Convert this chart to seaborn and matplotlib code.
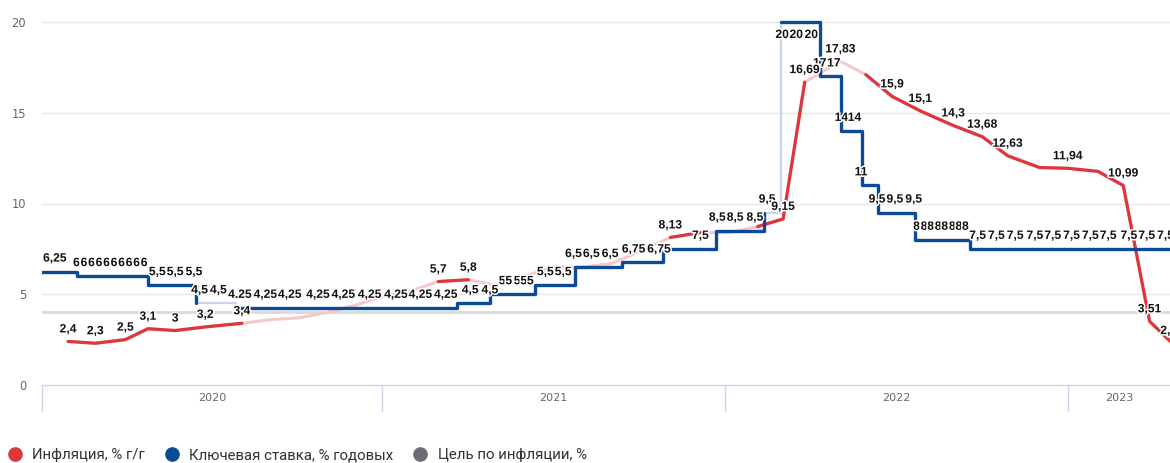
import matplotlib
matplotlib.use("Agg")
import matplotlib.pyplot as plt
import matplotlib.patheffects as pe
from matplotlib.lines import Line2D
import seaborn as sns
import pandas as pd

# ---------------- data ----------------
infl_dates = ['2020-02-02', '2020-03-02', '2020-04-03', '2020-04-27', '2020-05-26', '2020-06-27',
              '2020-08-05', '2020-09-04', '2020-10-05', '2020-11-04', '2020-12-04', '2021-01-03',
              '2021-02-02', '2021-03-02', '2021-04-03', '2021-05-02', '2021-06-02', '2021-07-03',
              '2021-08-03', '2021-09-03', '2021-10-04', '2021-11-04', '2021-12-06', '2022-01-05',
              '2022-02-05', '2022-03-04', '2022-03-27', '2022-05-04', '2022-05-31', '2022-06-28',
              '2022-07-28', '2022-09-01', '2022-10-02', '2022-10-29', '2022-12-02', '2023-01-01',
              '2023-02-02', '2023-03-01', '2023-03-29', '2023-04-22']
infl_values = [2.4, 2.3, 2.5, 3.1, 3.0, 3.2, 3.4, 3.6, 3.7, 4.0, 4.4, 4.9,
               5.2, 5.7, 5.8, 5.5, 6.0, 6.5, 6.5, 6.7, 7.4, 8.13, 8.4, 8.39,
               8.73, 9.15, 16.69, 17.83, 17.1, 15.9, 15.1, 14.3, 13.68, 12.63, 11.98, 11.94,
               11.77, 10.99, 3.51, 2.31]
infl_labeled = [0, 1, 2, 3, 4, 5, 6, 13, 14, 21, 25, 26, 27, 29, 30, 31, 32, 33, 35, 37, 38, 39]
infl_solid_spans = [(0, 6), (13, 14), (21, 22), (24, 26), (28, 39)]

rate_dates = ['2020-01-01', '2020-02-11', '2020-04-27', '2020-06-17', '2020-07-30', '2021-03-22',
              '2021-04-26', '2021-06-13', '2021-07-25', '2021-09-14', '2021-10-27', '2021-12-23',
              '2022-02-12', '2022-03-02', '2022-04-12', '2022-05-05', '2022-05-27', '2022-06-13',
              '2022-07-22', '2022-09-19', '2023-05-31']
rate_values = [6.25, 6, 5.5, 4.5, 4.25, 4.5, 5, 5.5, 6.5, 6.75, 7.5, 8.5,
               9.5, 20, 17, 14, 11, 9.5, 8, 7.5, 7.5]
rate_faded_spans = [(3, 4), (12, 13)]

rate_label_dates = ['2020-01-19',
                    '2020-02-11', '2020-02-19', '2020-02-27', '2020-03-06', '2020-03-14',
                    '2020-03-22', '2020-03-30', '2020-04-07', '2020-04-15', '2020-04-23',
                    '2020-05-07', '2020-05-26', '2020-06-15',
                    '2020-06-21', '2020-07-11',
                    '2020-08-03', '2020-08-30', '2020-09-25', '2020-10-25', '2020-11-21',
                    '2020-12-19', '2021-01-16', '2021-02-11', '2021-03-10',
                    '2021-04-05', '2021-04-26',
                    '2021-05-09', '2021-05-16', '2021-05-25', '2021-06-01', '2021-06-08',
                    '2021-06-24', '2021-07-13',
                    '2021-07-24', '2021-08-12', '2021-09-01',
                    '2021-09-26', '2021-10-23',
                    '2021-12-06',
                    '2021-12-24', '2022-01-12', '2022-02-02',
                    '2022-02-15',
                    '2022-03-03', '2022-03-18', '2022-04-03',
                    '2022-04-12', '2022-04-27',
                    '2022-05-05', '2022-05-19',
                    '2022-05-26',
                    '2022-06-12', '2022-07-01', '2022-07-21',
                    '2022-07-24', '2022-08-01', '2022-08-08', '2022-08-16', '2022-08-23',
                    '2022-08-31', '2022-09-07', '2022-09-14',
                    '2022-09-27', '2022-10-17', '2022-11-06', '2022-11-27', '2022-12-16',
                    '2023-01-05', '2023-01-25', '2023-02-13', '2023-03-07', '2023-03-26', '2023-04-15']
rate_label_values = [6.25] + [6] * 10 + [5.5] * 3 + [4.5] * 2 + [4.25] * 9 + [4.5] * 2 + [5] * 5 + \
                    [5.5] * 2 + [6.5] * 3 + [6.75] * 2 + [7.5] + [8.5] * 3 + [9.5] + [20] * 3 + \
                    [17] * 2 + [14] * 2 + [11] + [9.5] * 3 + [8] * 8 + [7.5] * 11
rate_label_override = {16: '4.25'}

target_dates = ['2020-01-01', '2023-05-31']
target_values = [4, 4]

years = [2020, 2021, 2022, 2023]
y_ticks = [0, 5, 10, 15, 20]
x_range = ('2020-01-05 06:00', '2023-04-19 18:00')

series_names = ['Инфляция, % г/г', 'Ключевая ставка, % годовых', 'Цель по инфляции, %']

# ---------------- style ----------------
sns.set_style("white")
plt.rcParams['font.family'] = ['DejaVu Sans']

RED = '#dd363c'
RED_FADED = '#f6c8ca'
BLUE = '#0c4a99'
BLUE_FADED = '#c8d5eb'
TARGET = '#d9d9d9'
AXIS = '#ccd6eb'

W, H = 1170, 463
fig = plt.figure(figsize=(W / 100, H / 100), dpi=100)
ytop = 20.2
px_per_unit = 363 / 20
ax_h = ytop * px_per_unit
ax = fig.add_axes([42 / W, (H - 385) / H, 1 - 42 / W, ax_h / H])

infl = pd.DataFrame({'date': pd.to_datetime(infl_dates), 'value': infl_values})
rate = pd.DataFrame({'date': pd.to_datetime(rate_dates), 'value': rate_values})
target = pd.DataFrame({'date': pd.to_datetime(target_dates), 'value': target_values})
rlab = pd.DataFrame({'date': pd.to_datetime(rate_label_dates), 'value': rate_label_values})

# grid
for v in y_ticks[1:]:
    ax.axhline(v, color='#e6e6e6', lw=0.9, zorder=0)

# target line
sns.lineplot(data=target, x='date', y='value', ax=ax, color=TARGET, lw=2.0, zorder=1,
             errorbar=None)

# inflation: faded full line, then solid spans
sns.lineplot(data=infl, x='date', y='value', ax=ax, color=RED_FADED, lw=2.2, zorder=2,
             errorbar=None)
for a, b in infl_solid_spans:
    sns.lineplot(data=infl.iloc[a:b + 1], x='date', y='value', ax=ax, color=RED, lw=2.3,
                 zorder=3, errorbar=None)

# key rate: faded spans + dark pieces
for a, b in rate_faded_spans:
    sns.lineplot(data=rate.iloc[a:b + 1], x='date', y='value', ax=ax, color=BLUE_FADED, lw=1.6,
                 drawstyle='steps-post', zorder=4, errorbar=None)
cuts = [0]
for a, b in rate_faded_spans:
    cuts += [a, b]
cuts.append(len(rate) - 1)
for i in range(0, len(cuts), 2):
    a, b = cuts[i], cuts[i + 1]
    sns.lineplot(data=rate.iloc[a:b + 1], x='date', y='value', ax=ax, color=BLUE, lw=2.4,
                 drawstyle='steps-post', zorder=5, errorbar=None)

xmin, xmax = pd.Timestamp(x_range[0]), pd.Timestamp(x_range[1])
ax.set_xlim(xmin, xmax)
ax.set_ylim(0, ytop)


def fmt(v):
    s = ('%.2f' % v).rstrip('0').rstrip('.')
    return s.replace('.', ',')


outline = [pe.withStroke(linewidth=2.2, foreground='white')]
lab_kw = dict(textcoords='offset pixels', ha='center', va='center', fontsize=8.7,
              fontweight='bold', family='Liberation Sans', color='#111111',
              path_effects=outline, zorder=10, annotation_clip=False)

for i, (d, v) in enumerate(zip(rlab['date'], rlab['value'])):
    txt = rate_label_override.get(i, fmt(v))
    off = -13 if v + 13 / px_per_unit > ytop else 13
    ax.annotate(txt, (d, v), xytext=(0, off), **lab_kw)

for i in infl_labeled:
    ax.annotate(fmt(infl['value'][i]), (infl['date'][i], infl['value'][i]), xytext=(0, 12),
                **lab_kw)

# axes decoration
sns.despine(ax=ax, left=True, top=True, right=True, bottom=False)
ax.spines['bottom'].set_color(AXIS)
ax.spines['bottom'].set_linewidth(1)
ax.set_yticks(y_ticks)
ax.set_yticklabels([str(t) for t in y_ticks])
ax.tick_params(axis='y', length=0, pad=11.5, labelsize=8.3, labelcolor='#666666')
ax.set_xticks([])
ax.set_xlabel('')
ax.set_ylabel('')
if ax.get_legend():
    ax.get_legend().remove()

trans = ax.get_xaxis_transform()
sep_h = 26 / ax_h
bounds = [xmin] + [pd.Timestamp(f'{y}-01-01') for y in years[1:]]
for bnd in bounds:
    ax.plot([bnd, bnd], [0, -sep_h], transform=trans, color=AXIS, lw=1, clip_on=False)
for y in years:
    a = max(pd.Timestamp(f'{y}-01-01'), xmin)
    b = min(pd.Timestamp(f'{y + 1}-01-01'), xmax)
    ax.text(a + (b - a) / 2, -13 / ax_h, str(y), transform=trans, ha='center', va='center',
            fontsize=8.0, color='#666666')

handles = [Line2D([], [], marker='o', ls='', color=c, markersize=9.5)
           for c in (RED, BLUE, '#6c6e77')]
fig.legend(handles, series_names, loc='center left', bbox_to_anchor=(7.7 / W, 8 / H), ncol=3,
           frameon=False, prop={'family': 'Roboto', 'size': 10.8}, handlelength=1.0,
           handletextpad=0.64, columnspacing=1.3, borderaxespad=0, borderpad=0,
           labelcolor='#333333')

fig.savefig('out.png', dpi=100)
